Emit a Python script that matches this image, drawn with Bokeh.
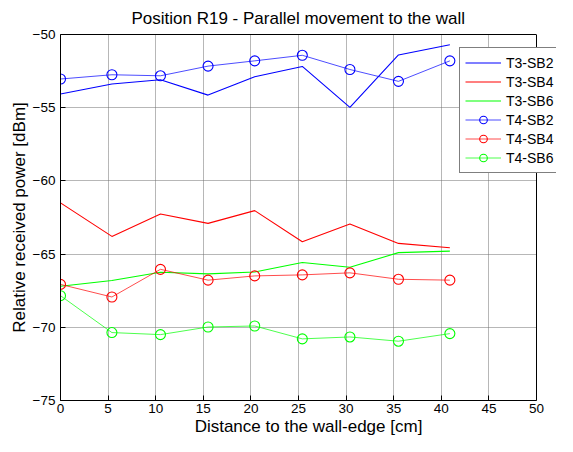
from bokeh.plotting import figure
from bokeh.models import (ColumnDataSource, FixedTicker, Legend, LegendItem, Range1d,
                          LinearAxis, Span, BoxAnnotation)
from bokeh.embed import file_html
from bokeh.resources import INLINE

# ---- data ----
distance = [0, 5.4, 10.5, 15.5, 20.4, 25.4, 30.4, 35.5, 40.9]
t3_sb2 = [-54.07, -53.38, -53.09, -54.14, -52.88, -52.18, -54.98, -51.40, -50.70]
t3_sb4 = [-61.50, -63.79, -62.26, -62.90, -62.03, -64.16, -62.95, -64.27, -64.57]
t3_sb6 = [-67.20, -66.80, -66.24, -66.35, -66.22, -65.57, -65.90, -64.90, -64.80]
t4_sb2 = [-53.04, -52.75, -52.82, -52.16, -51.80, -51.42, -52.39, -53.20, -51.80]
t4_sb4 = [-67.07, -67.93, -66.04, -66.78, -66.49, -66.42, -66.28, -66.72, -66.78]
t4_sb6 = [-67.84, -70.36, -70.50, -69.98, -69.91, -70.79, -70.66, -70.95, -70.43]

x_ticks = [0, 5, 10, 15, 20, 25, 30, 35, 40, 45, 50]
y_ticks = [-75, -70, -65, -60, -55, -50]
x_min, x_max = 0, 50
y_min, y_max = -75, -50

t3_series = [("T3-SB2", t3_sb2, "#0000ff"), ("T3-SB4", t3_sb4, "#ff0000"), ("T3-SB6", t3_sb6, "#00ff00")]
t4_series = [("T4-SB2", t4_sb2, "#0000ff"), ("T4-SB4", t4_sb4, "#ff0000"), ("T4-SB6", t4_sb6, "#00ff00")]

FONT = "Liberation Sans"

# the axes box is 476 px wide; the frame is extended to the right so the
# legend (which sticks out of the box, as in the original) is not clipped
BOX_W = 476
FRAME_W = 496
FRAME_H = 366
x_view_end = x_max * FRAME_W / BOX_W

p = figure(frame_width=FRAME_W, frame_height=FRAME_H, output_backend="svg", toolbar_location=None,
           x_range=Range1d(x_min, x_view_end), y_range=Range1d(y_min, y_max),
           title="Position R19 - Parallel movement to the wall",
           min_border_left=60, min_border_right=0, min_border_top=34, min_border_bottom=36)

p.title.text_font = FONT
p.title.text_font_size = "17px"
p.title.text_font_style = "normal"
p.title.align = "left"
p.title.offset = 71
p.title.text_color = "black"
p.title.standoff = 13

p.background_fill_color = "white"
p.border_fill_color = "white"
p.outline_line_color = None

for ax in p.xaxis:
    ax.ticker = FixedTicker(ticks=x_ticks)
    ax.bounds = (x_min, x_max)
    ax.axis_label = "Distance to the wall-edge [cm]"
    ax.axis_label_standoff = 1
    ax.major_label_standoff = 3
for ax in p.yaxis:
    ax.ticker = FixedTicker(ticks=y_ticks)
    ax.axis_label = "Relative received power [dBm]"
    ax.axis_label_standoff = 1
    ax.major_label_standoff = 5

for ax in list(p.xaxis) + list(p.yaxis):
    ax.axis_label_text_font = FONT
    ax.axis_label_text_font_size = "17px"
    ax.axis_label_text_font_style = "normal"
    ax.major_label_text_font = FONT
    ax.major_label_text_font_size = "13.5px"
    ax.major_tick_in = 5
    ax.major_tick_out = 0
    ax.minor_tick_in = 0
    ax.minor_tick_out = 0
    ax.axis_line_color = "black"
    ax.major_tick_line_color = "black"
    ax.major_label_text_color = "black"
    ax.axis_label_text_color = "black"

# top edge of the axes box
top_ax = LinearAxis(ticker=FixedTicker(ticks=[]), bounds=(x_min, x_max),
                    axis_line_color="black", major_tick_in=0, major_tick_out=0,
                    minor_tick_in=0, minor_tick_out=0, major_label_standoff=0,
                    axis_label_standoff=0)
p.add_layout(top_ax, "above")

p.xgrid.ticker = FixedTicker(ticks=x_ticks)
p.ygrid.ticker = FixedTicker(ticks=y_ticks)
for g in (p.xgrid, p.ygrid):
    g.grid_line_color = "#6f6f6f"
    g.grid_line_dash = "1 1"
    g.grid_line_width = 1

# blank out the area right of the axes box and draw its right edge
p.add_layout(BoxAnnotation(left=x_max, fill_color="white", fill_alpha=1, line_color=None,
                           level="underlay"), "center")
p.add_layout(Span(location=x_max, dimension="height", line_color="black", line_width=1))

items = []
for name, vals, col in t3_series:
    src = ColumnDataSource(dict(x=distance, y=vals))
    r = p.line("x", "y", source=src, line_color=col, line_width=1.1)
    items.append(LegendItem(label=name, renderers=[r]))
for name, vals, col in t4_series:
    src = ColumnDataSource(dict(x=distance, y=vals))
    r1 = p.line("x", "y", source=src, line_color=col, line_width=1, line_alpha=0.7)
    r2 = p.scatter("x", "y", source=src, marker="circle", size=10, fill_color=None,
                   line_color=col, line_width=1.1)
    items.append(LegendItem(label=name, renderers=[r1, r2]))

legend = Legend(items=items, location=(399, 227), orientation="vertical")
legend.label_text_font = FONT
legend.label_text_font_size = "14px"
legend.label_text_color = "black"
legend.label_height = 19
legend.glyph_height = 19
legend.glyph_width = 36
legend.label_standoff = 5
legend.spacing = 0
legend.padding = 5
legend.margin = 0
legend.border_line_color = "black"
legend.border_line_width = 1
legend.background_fill_color = "white"
legend.background_fill_alpha = 1
p.add_layout(legend, "center")

open("out.html", "w").write(file_html(p, INLINE))
